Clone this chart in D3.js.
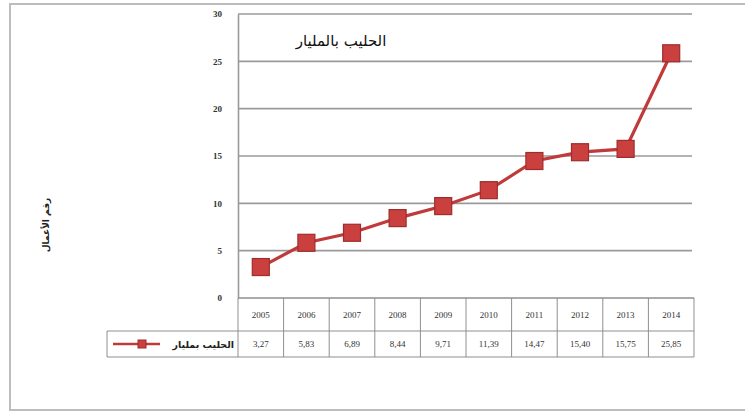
<!DOCTYPE html>
<html><head><meta charset="utf-8">
<script src="https://cdn.jsdelivr.net/npm/d3@7"></script>
<style>body{margin:0;background:#fff}svg{display:block}</style>
</head><body>
<svg id="c" width="745" height="412"></svg>
<script>
const years = ["2005","2006","2007","2008","2009","2010","2011","2012","2013","2014"];
const values = [3.27, 5.83, 6.89, 8.44, 9.71, 11.39, 14.47, 15.40, 15.75, 25.85];
const valueLabels = ["3,27","5,83","6,89","8,44","9,71","11,39","14,47","15,40","15,75","25,85"];
const yTicks = [0,5,10,15,20,25,30];
const titleText = "الحليب بالمليار";
const seriesName = "الحليب بمليار";
const yTitle = "رقم الأعمال";

const svg = d3.select("#c");
const L = 238, R = 694, T = 14, B = 298;
const row1B = 331, row2B = 357, legL = 107;
const serif = "'Liberation Serif', 'DejaVu Serif', serif";
const arab = "'DejaVu Sans', sans-serif";

// outer frame
svg.append("path").attr("d","M745,4 H10 V410 H745").attr("fill","none").attr("stroke","#bdbdbd").attr("stroke-width",2);

const x = d3.scaleBand().domain(years).range([L, R]);
const y = d3.scaleLinear().domain([0,30]).range([B, T]);

// gridlines
svg.append("g").selectAll("line").data(yTicks.filter(d=>d>0)).join("line")
  .attr("x1",L).attr("x2",R-2).attr("y1",d=>y(d)).attr("y2",d=>y(d))
  .attr("stroke","#9a9a9a").attr("stroke-width",1.6);

// y axis
const ya = svg.append("g").attr("transform",`translate(${L},0)`)
  .call(d3.axisLeft(y).tickValues(yTicks).tickSize(0).tickPadding(16));
ya.select(".domain").attr("stroke","#9a9a9a").attr("stroke-width",1.6);
ya.selectAll("text").attr("font-family",serif).attr("font-size",9).attr("font-weight","bold").attr("fill","#333");

// table
const tg = svg.append("g").attr("stroke","#8f8f8f").attr("stroke-width",1);
tg.append("line").attr("x1",L).attr("x2",R).attr("y1",B).attr("y2",B).attr("stroke-width",1.6);
tg.append("line").attr("x1",legL).attr("x2",R).attr("y1",row1B).attr("y2",row1B);
tg.append("line").attr("x1",legL).attr("x2",R).attr("y1",row2B).attr("y2",row2B);
tg.append("line").attr("x1",legL).attr("x2",legL).attr("y1",row1B).attr("y2",row2B);
tg.selectAll("line.v").data(years.concat(["end"])).join("line").attr("class","v")
  .attr("x1",(d,i)=> i<years.length ? x(d) : R).attr("x2",(d,i)=> i<years.length ? x(d) : R)
  .attr("y1",B).attr("y2",row2B);

svg.append("g").selectAll("text").data(years).join("text")
  .attr("x",d=>x(d)+x.bandwidth()/2).attr("y",(B+row1B)/2+3)
  .attr("text-anchor","middle").attr("font-family",serif).attr("font-size",9).attr("fill","#333").text(d=>d);
svg.append("g").selectAll("text").data(valueLabels).join("text")
  .attr("x",(d,i)=>x(years[i])+x.bandwidth()/2).attr("y",(row1B+row2B)/2+3)
  .attr("text-anchor","middle").attr("font-family",serif).attr("font-size",9).attr("fill","#333").text(d=>d);

// legend in table
const ly = (row1B+row2B)/2;
svg.append("line").attr("x1",113).attr("x2",160).attr("y1",ly).attr("y2",ly).attr("stroke","#c0393b").attr("stroke-width",2.5);
svg.append("rect").attr("x",138).attr("y",ly-4).attr("width",8).attr("height",8).attr("fill","#c9403f").attr("stroke","#9e2a2b").attr("stroke-width",1);
svg.append("text").attr("x",234).attr("y",ly+3.5).attr("text-anchor","end").attr("font-family",arab).attr("font-size",9.5).attr("font-weight","bold").attr("fill","#222").text(seriesName);

// line + markers
const cx = d => x(d)+x.bandwidth()/2;
svg.append("path").datum(values)
  .attr("d", d3.line().x((d,i)=>cx(years[i])).y(d=>y(d)))
  .attr("fill","none").attr("stroke","#c0393b").attr("stroke-width",3.2);
const ms = 17;
svg.append("g").selectAll("rect").data(values).join("rect")
  .attr("x",(d,i)=>cx(years[i])-ms/2).attr("y",d=>y(d)-ms/2)
  .attr("width",ms).attr("height",ms)
  .attr("fill","#c9403f").attr("stroke","#a02c2c").attr("stroke-width",1.2);

// title
svg.append("text").attr("x",341).attr("y",46).attr("text-anchor","middle")
  .attr("font-family",arab).attr("font-size",15).attr("fill","#111").text(titleText);

// y title
svg.append("text").attr("transform","translate(49,225) rotate(-90)").attr("text-anchor","middle")
  .attr("font-family",arab).attr("font-size",9).attr("font-weight","bold").attr("fill","#222").text(yTitle);
</script>
</body></html>
